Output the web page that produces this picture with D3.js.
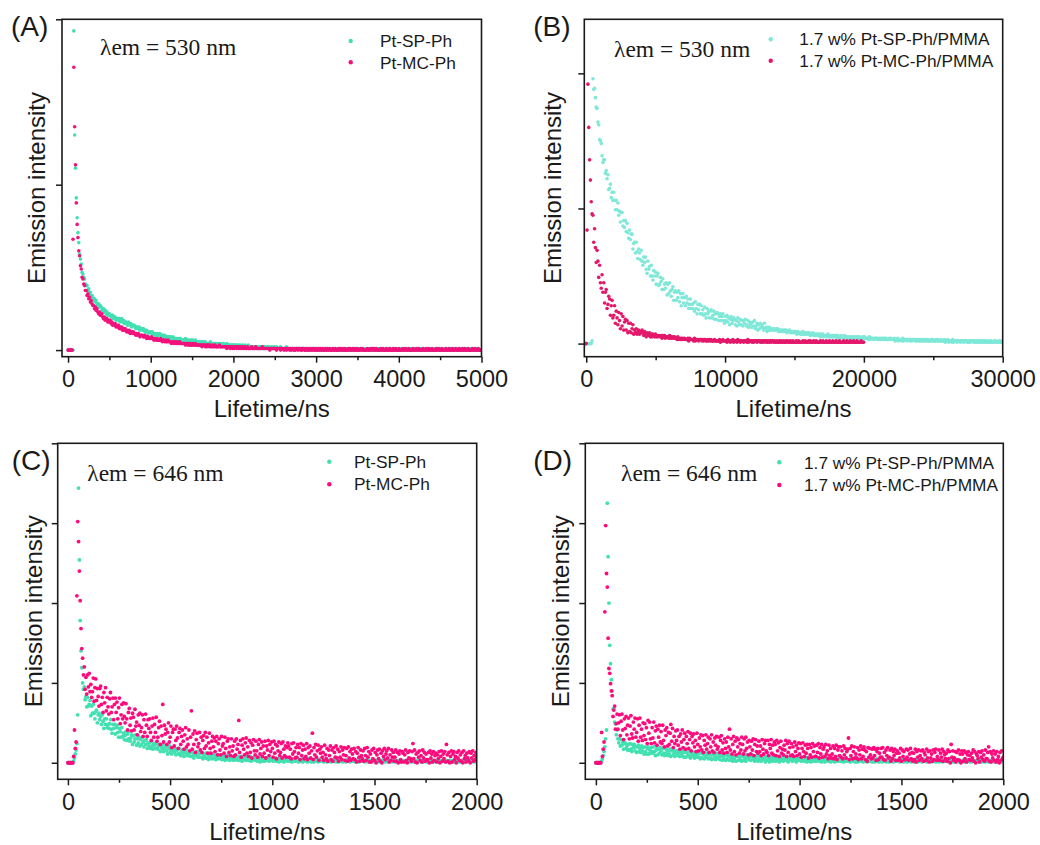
<!DOCTYPE html>
<html>
<head>
<meta charset="utf-8">
<script src="https://cdn.jsdelivr.net/npm/d3@7"></script>
<style>
  html, body { margin: 0; padding: 0; background: #ffffff; }
  svg text { font-family: "Liberation Sans", Arial, Helvetica, sans-serif; fill: #1a1a1a; }
</style>
</head>
<body>
<svg id="fig" width="1040" height="845"></svg>
<script>
// ---------------------------------------------------------------
// Phosphorescence decay data (TCSPC histograms, arbitrary units)
// Each series is one intensity value per time channel.
// ---------------------------------------------------------------
const panelLabels = ["(A)", "(B)", "(C)", "(D)"];
const emissionLabels = ["λem = 530 nm", "λem = 530 nm", "λem = 646 nm", "λem = 646 nm"];
const legendSolution = ["Pt-SP-Ph", "Pt-MC-Ph"];
const legendFilm = ["1.7 w% Pt-SP-Ph/PMMA", "1.7 w% Pt-MC-Ph/PMMA"];
const xTitle = "Lifetime/ns";
const yTitle = "Emission intensity";

// time axis ticks (ns)
const xTicksA = [0, 1000, 2000, 3000, 4000, 5000];
const xTicksB = [0, 10000, 20000, 30000];
const xTicksCD = [0, 500, 1000, 1500, 2000];
const yTicks3 = [0, 100, 200];
const yTicks5 = [0, 100, 200, 300, 400];

// channel start and width (ns) for panels A, B, C, D
const channelStart = [0, -120, 0, 0];
const channelWidth = [10, 60, 4, 4];

// (A) solution, 530 nm
const aSp = [
0,0,0,0,0,0,0,193,130,110,
92,80,71,65,58,55,52,47,46,44,
43,40,39,39,36,37,34,35,32,33,
32,30,31,29,30,27,28,28,26,27,
26,24,25,25,23,24,22,23,21,22,
22,21,20,21,21,19,20,20,18,19,
19,18,19,17,18,19,17,18,16,17,
17,16,15,17,16,15,16,14,15,15,
15,14,13,14,14,13,14,12,13,13,
12,13,12,11,12,12,11,10,11,11,
11,10,11,10,9,10,10,9,10,9,
9,10,9,8,9,9,8,9,8,8,
8,8,7,8,8,7,7,8,7,7,
7,7,6,7,7,6,7,6,6,6,
6,6,7,5,6,6,5,6,5,6,
5,6,5,5,6,5,5,4,5,5,
5,4,5,5,4,4,5,4,4,4,
4,4,5,4,4,3,4,4,4,3,
4,3,4,4,3,4,3,3,4,3,
3,3,4,3,3,3,2,3,3,3,
3,3,2,3,3,2,3,2,3,2,
2,3,2,2,3,2,2,2,3,2,
2,2,2,1,2,2,2,2,1,2,
2,2,1,2,2,1,2,1,2,2,
1,2,1,2,1,1,2,1,1,2,
1,1,2,1,1,1,1,2,1,1,
1,1,1,1,2,1,1,1,1,1,
1,1,1,0,1,1,1,1,1,1,
1,1,0,1,1,1,0,1,1,1,
1,0,1,1,0,1,1,1,0,1,
1,0,1,0,1,1,0,1,0,1,
0,1,1,0,1,0,1,0,1,0,
0,1,0,1,0,0,1,0,1,0,
1,0,0,1,0,1,0,0,1,0,
0,1,0,0,1,0,1,0,0,1,
0,0,1,0,1,0,0,1,0,0,
1,0,0,1,0,0,1,0,0,1,
0,0,1,0,0,1,0,0,1,0,
0,1,0,0,0,1,0,0,1,0,
1,0,0,1,0,0,0,1,0,0,
0,0,1,0,0,1,0,0,0,1,
0,1,0,0,1,0,0,0,1,0,
0,0,0,1,0,0,1,0,0,0,
1,0,0,0,1,0,0,1,0,0,
0,0,1,0,0,0,1,0,0,1,
0,1,0,0,0,1,0,0,0,0,
1,0,0,1,0,0,0,1,0,0,
0,0,1,0,0,0,1,0,0,1,
0,1,0,0,1,0,0,0,1,0,
0,0,0,1,0,0,1,0,0,0,
0];
const aMc = [
0,0,0,0,0,0,67,171,135,112,
89,76,68,60,57,51,49,44,43,40,
39,36,36,33,34,31,32,29,30,28,
27,27,25,26,24,25,23,22,23,21,
21,22,20,19,20,18,19,19,17,18,
17,18,16,17,15,16,15,16,14,15,
14,15,13,14,13,14,12,13,12,13,
12,11,12,11,12,10,11,11,10,11,
10,10,9,10,9,10,9,8,9,9,
9,8,8,9,8,7,8,8,7,7,
7,8,7,7,6,7,7,6,7,6,
6,6,7,6,5,6,6,5,6,5,
5,6,5,5,5,4,5,5,4,5,
5,4,5,4,4,5,4,4,4,4,
4,4,3,4,4,3,4,3,4,3,
3,4,3,3,4,3,3,3,3,3,
3,3,2,3,3,3,2,3,2,3,
3,2,3,2,2,3,2,2,3,2,
2,2,2,3,2,2,2,2,2,2,
2,2,1,2,2,2,1,2,2,1,
2,1,2,2,1,2,1,2,1,2,
1,2,1,1,2,1,1,2,1,1,
1,1,2,1,1,1,1,2,1,1,
1,1,1,1,1,2,1,1,1,1,
1,1,1,1,0,1,1,1,1,1,
1,1,0,1,1,1,1,0,1,1,
1,0,1,1,0,1,1,1,0,1,
0,1,1,0,1,0,1,1,0,1,
1,0,1,0,1,1,0,0,1,0,
0,1,0,1,0,1,0,1,0,0,
1,0,0,1,0,1,0,0,1,0,
0,1,0,0,1,0,1,0,0,0,
1,0,0,1,0,0,0,1,0,1,
0,0,1,0,0,1,0,0,0,1,
0,1,0,0,1,0,0,1,0,0,
1,0,0,0,1,0,1,0,0,0,
0,0,1,0,0,0,1,0,1,0,
1,0,0,1,0,0,0,0,1,0,
0,1,0,0,0,1,0,0,0,1,
0,0,0,1,0,0,1,0,0,0,
1,0,0,0,0,1,0,0,1,0,
0,0,1,0,0,0,0,1,0,0,
0,1,0,0,1,0,0,0,0,1,
0,0,0,1,0,0,1,0,0,0,
1,0,0,0,0,1,0,0,1,0,
0,0,1,0,0,0,0,1,0,0,
0,1,0,0,0,1,0,0,0,1,
0,0,0,1,0,0,0,1,0,0,
1,0,0,0,1,0,0,0,0,1,
0,0,1,0,0,0,1,0,0,0,
0];

// (B) PMMA film, 530 nm
const bSp = [
0,0,0,0,0,0,0,0,0,2,
196,188,189,182,175,174,164,162,151,150,
148,139,134,136,136,126,128,122,125,114,
115,118,108,112,106,112,106,99,106,99,
104,95,98,90,97,97,87,91,86,91,
83,89,82,78,84,77,81,81,70,74,
75,67,75,68,63,70,67,62,69,61,
58,64,60,64,55,52,61,55,57,50,
58,50,47,54,50,53,44,50,52,43,
44,49,46,40,48,40,44,41,45,36,
44,37,45,39,35,40,42,32,38,39,
32,38,34,39,31,37,28,34,37,30,
34,28,35,30,33,26,29,33,26,29,
26,30,24,31,26,22,29,25,29,22,
28,22,25,21,27,22,19,26,22,24,
19,24,25,19,21,24,18,22,18,23,
22,17,20,22,17,20,22,17,15,20,
17,21,16,19,14,18,20,15,17,19,
18,14,17,13,19,16,14,18,14,17,
13,17,15,18,13,14,17,12,16,14,
15,12,16,13,17,11,13,15,10,14,
11,15,12,14,12,10,15,11,12,9,
12,10,12,10,11,10,11,10,11,10,
11,10,11,9,10,9,10,9,10,9,
10,9,10,8,9,9,10,8,9,8,
9,8,9,8,9,7,9,8,8,7,
8,7,9,7,8,7,8,7,8,7,
8,6,7,7,8,6,7,6,7,6,
7,6,7,5,7,6,7,5,6,6,
6,5,7,5,6,5,6,5,6,5,
6,5,6,4,6,5,5,4,6,5,
5,4,6,4,5,5,5,4,5,4,
5,4,5,4,5,4,5,4,5,4,
5,4,4,4,5,3,5,4,4,4,
4,3,5,3,4,4,4,3,4,4,
4,3,4,3,4,3,4,3,4,3,
4,3,4,3,3,3,4,3,4,3,
3,3,4,2,3,3,4,2,3,3,
3,2,4,2,3,3,3,2,3,3,
3,2,3,2,3,3,3,2,3,2,
3,2,3,2,3,2,3,2,3,2,
3,2,3,2,2,2,3,2,3,2,
2,2,3,2,3,2,2,2,3,2,
2,2,3,1,2,2,3,1,2,2,
2,1,3,1,2,2,2,1,2,2,
2,1,2,2,2,1,2,2,2,1,
2,1,2,1,2,2,2,1,2,1,
2,1,2,1,2,1,2,1,2,1,
2,1,2,1,1,2,1,1,2,1,
1,1,2,1,2,1,1,1,2,1,
1,2,1];
const bMc = [
0,0,0,84,192,160,136,121,105,96,
95,75,85,71,60,69,61,49,58,45,
41,51,38,45,30,38,40,26,29,35,
33,21,28,32,19,21,28,15,24,19,
14,23,17,11,22,13,20,10,16,18,
10,17,8,15,9,15,8,11,14,7,
10,8,11,7,9,10,7,9,8,10,
8,6,9,7,5,8,7,6,8,5,
7,5,7,6,5,7,5,6,5,6,
6,5,6,4,6,5,6,4,5,5,
5,4,6,4,5,4,5,4,5,4,
4,3,5,3,4,3,4,3,4,3,
4,3,3,3,4,2,4,3,3,3,
3,2,4,2,3,3,3,2,3,3,
3,2,3,2,3,3,2,2,3,2,
3,2,3,2,2,2,3,2,2,2,
2,2,3,1,2,2,3,2,2,2,
2,1,3,2,2,1,2,2,3,1,
2,2,2,1,3,2,2,1,2,2,
2,1,2,2,2,1,3,1,2,2,
2,1,2,1,2,2,2,1,2,2,
2,1,2,1,2,1,2,2,1,2,
1,2,1,2,1,2,2,1,2,1,
1,2,1,1,2,1,2,1,1,2,
1,1,2,1,2,1,1,2,1,1,
2,1,1,1,2,1,1,2,1,1,
1,1,2,1,1,2,1,1,1,2,
1,2,1,1,1,2,1,1,2,1,
1,1,1,2,1,1,2,1,1,1,
2,1,1,1,2,1,1,1,2,1,
1,1,2,1,1,1,2,1,1,1,
1,2,1,1,1,2,1,1,1,2,
1,1,1,2,1,1,1,2,1,1,
1,1,2,1,1,1];

// (C) solution, 646 nm
const cSp = [
0,0,0,0,0,0,0,2,6,11,
16,24,60,344,254,178,140,119,100,92,
95,79,83,70,82,71,73,78,59,71,
62,73,62,55,64,66,50,60,62,54,
58,48,60,52,43,55,48,55,44,48,
43,49,54,42,37,48,43,48,36,44,
47,38,32,43,39,32,44,33,37,29,
34,39,28,36,30,39,27,31,35,23,
34,26,30,35,22,30,25,32,21,29,
23,32,26,20,28,23,29,18,25,21,
25,18,27,21,17,24,22,18,24,18,
17,21,23,14,21,18,23,14,18,20,
21,15,11,18,21,13,16,11,18,15,
13,18,10,15,17,11,18,12,9,15,
16,12,8,14,12,16,9,12,9,14,
8,13,15,9,6,11,13,9,14,7,
11,7,12,13,7,5,11,9,6,12,
6,11,4,9,12,7,5,10,11,5,
9,4,7,10,5,8,6,10,4,8,
5,9,3,7,8,4,9,6,3,7,
8,4,7,3,9,6,4,7,3,8,
3,6,8,2,5,7,4,8,3,6,
7,3,5,8,2,6,6,4,7,3,
3,7,2,5,6,1,7,4,2,6,
5,2,6,4,3,6,2,5,4,3,
4,2,5,3,6,2,4,5,1,4,
2,5,3,4,1,5,3,4,2,5,
4,2,5,3,1,4,3,5,2,3,
3,5,1,4,2,4,3,1,5,3,
2,4,3,1,5,3,2,4,1,4,
3,1,4,2,4,3,1,3,4,2,
4,2,3,1,3,4,2,1,3,3,
2,3,1,4,2,3,4,2,1,3,
3,1,3,2,4,2,1,3,3,2,
1,3,2,4,2,1,3,2,4,2,
3,2,1,3,2,4,1,2,3,2,
2,4,2,1,3,2,3,1,2,3,
1,2,3,2,4,1,2,3,2,2,
3,1,2,3,1,2,4,2,1,3,
2,3,1,2,3,2,1,3,2,2,
1,2,3,1,2,3,2,1,3,2,
3,2,1,2,2,3,1,2,3,1,
2,1,3,2,1,2,3,2,1,2,
2,3,1,2,3,1,2,2,3,1,
1,2,2,3,1,2,3,1,2,2,
3,1,2,2,1,3,2,1,2,3,
2,2,1,3,2,1,2,3,1,2,
1,3,2,1,2,3,1,2,2,1,
2,1,3,2,2,1,3,1,2,2,
3,2,1,2,1,3,2,2,1,2,
2];
const cMc = [
0,0,0,0,0,0,0,8,41,18,
26,209,302,277,240,203,168,143,131,110,
120,92,107,86,110,95,112,89,98,82,
89,106,77,94,105,78,93,83,71,93,
96,73,82,63,88,75,94,65,82,70,
61,80,88,63,70,81,54,73,81,63,
76,55,69,81,49,60,73,55,75,58,
50,74,55,41,63,68,47,56,40,62,
57,41,67,46,51,35,60,47,62,39,
44,60,33,54,38,61,47,33,54,43,
55,38,28,46,56,32,48,38,57,27,
32,44,52,23,46,34,73,26,47,36,
42,23,38,50,26,32,46,19,38,42,
21,42,28,46,31,18,38,43,23,33,
41,27,17,35,44,20,30,23,41,15,
32,65,17,36,23,40,13,29,37,20,
24,38,16,32,13,28,34,18,38,21,
32,12,25,37,18,12,27,33,20,31,
14,27,33,10,24,30,16,10,33,21,
24,12,32,18,8,27,30,13,20,9,
30,15,21,8,27,10,30,17,23,53,
13,28,7,22,30,17,10,25,31,12,
20,8,28,13,25,6,22,29,15,10,
27,15,7,23,29,11,18,26,8,21,
12,27,6,21,16,28,9,23,14,26,
18,7,27,12,23,5,21,15,26,9,
13,24,6,26,17,9,21,7,19,25,
21,7,17,5,24,11,25,14,6,19,
7,23,12,19,4,24,9,16,22,5,
17,8,24,4,19,12,21,6,15,37,
4,19,10,23,7,15,22,3,17,12,
20,7,13,3,22,10,5,18,2,16,
9,21,4,16,2,19,13,7,21,6,
17,2,14,7,20,4,16,10,19,3,
9,18,2,20,6,14,3,17,11,5,
18,4,14,1,12,19,7,2,16,9,
5,15,2,18,9,3,19,7,14,1,
11,1,16,5,18,3,13,0,10,16,
5,17,2,12,0,15,8,18,4,11,
15,6,18,1,10,3,16,7,13,2,
7,16,2,13,0,11,15,4,1,14,
12,1,10,16,3,0,13,6,15,5,
2,14,24,5,16,1,11,0,13,7,
15,3,9,1,16,6,13,2,11,4,
4,13,0,15,6,11,1,14,3,9,
12,1,10,5,14,0,8,15,2,11,
5,14,1,23,10,2,13,0,8,15,
1,11,14,4,8,0,13,6,15,3,
10,2,13,0,15,5,9,1,12,6,
3,14,0,12,6,15,2,9,4,13,
8];

// (D) PMMA film, 646 nm
const dSp = [
0,0,0,0,0,0,0,2,5,9,
14,20,30,41,325,258,200,147,124,104,
90,67,68,51,49,35,41,30,25,30,
21,29,22,26,17,24,25,18,21,16,
23,16,24,17,14,23,19,23,15,20,
13,20,22,14,18,13,21,15,19,11,
20,14,11,18,20,11,16,12,19,14,
12,20,14,9,16,18,10,17,12,19,
15,10,18,12,9,18,12,16,9,15,
11,17,8,15,17,10,13,8,15,12,
15,9,13,8,16,12,9,15,7,13,
7,13,15,10,8,14,6,11,13,8,
12,6,10,14,7,11,13,7,5,12,
6,12,10,5,13,7,9,12,5,10,
12,6,4,10,11,5,9,4,12,7,
6,11,4,8,11,3,9,6,10,3,
10,4,8,11,3,7,10,5,2,9,
5,9,2,8,10,3,7,4,9,2,
8,3,9,5,2,10,6,9,4,7,
3,8,10,4,7,2,8,4,9,2,
7,3,8,2,6,9,4,6,1,8,
3,8,5,1,7,4,8,2,6,5,
7,2,6,4,8,1,5,7,3,6,
2,6,4,7,3,5,1,6,4,7,
5,2,7,3,6,4,1,6,3,5,
3,6,2,5,4,7,2,4,6,1,
6,2,4,5,1,6,3,5,2,4,
2,5,3,6,2,4,5,1,4,6,
4,1,5,3,6,2,4,3,1,5,
2,5,3,1,5,4,2,6,3,2,
4,2,5,3,1,4,2,5,3,2,
2,4,1,5,3,2,4,3,1,5,
3,1,4,2,5,3,2,4,1,3,
4,2,3,1,4,3,5,2,3,1,
2,4,1,3,2,5,3,1,4,2,
3,1,4,2,3,4,1,3,2,4,
1,3,2,4,3,1,4,2,3,2,
3,2,4,1,2,3,2,4,1,3,
2,4,1,3,2,3,4,1,2,3,
3,1,2,4,2,1,3,2,4,2,
1,3,2,2,4,3,1,3,2,3,
2,4,1,3,2,2,3,1,4,2,
3,1,3,2,4,1,2,3,2,2,
2,3,2,1,3,2,4,1,2,3,
1,2,3,2,2,4,1,3,2,2,
3,2,1,3,2,1,3,2,4,1,
2,1,3,2,3,2,1,2,3,2,
1,3,2,2,1,3,2,3,1,2,
3,2,1,2,3,1,2,2,3,1,
2,1,3,2,1,2,3,1,2,3,
2];
const dMc = [
0,0,0,0,0,0,0,38,8,17,
26,189,297,237,220,156,118,112,99,90,
84,58,66,71,42,49,61,42,50,60,
34,52,61,41,29,55,43,58,35,47,
56,30,46,59,36,31,51,42,56,32,
38,55,27,47,56,32,42,28,50,34,
49,29,44,24,53,37,51,30,24,44,
31,51,25,40,46,22,42,32,47,26,
39,24,47,28,20,41,34,44,21,38,
23,37,48,27,43,19,33,24,40,28,
41,22,33,17,36,26,41,19,29,37,
17,33,24,39,18,29,37,15,33,25,
36,20,28,14,37,23,15,31,20,35,
16,34,13,28,22,35,17,24,32,13,
30,20,35,15,26,13,31,22,33,17,
20,32,13,28,34,16,25,12,30,18,
26,13,32,20,42,16,30,11,23,33,
14,27,10,31,20,29,12,24,16,32,
23,11,30,15,32,18,26,10,28,20,
11,27,16,30,9,23,29,14,21,12,
27,14,21,9,29,17,11,24,28,15,
13,28,9,23,18,29,12,22,10,26,
23,9,28,15,25,8,19,27,12,17,
10,22,16,28,8,24,13,27,19,9,
24,10,20,8,26,14,22,9,18,25,
11,24,7,18,25,14,8,22,12,23,
18,6,23,10,19,7,24,14,21,8,
8,22,13,24,6,19,11,23,7,17,
20,8,23,11,15,5,22,9,18,6,
11,21,5,18,8,22,4,16,20,9,
20,7,15,5,21,10,18,6,14,17,
31,4,18,9,21,5,14,20,6,11,
6,19,4,16,10,21,5,17,8,20,
16,4,14,2,19,7,18,10,5,17,
6,19,9,17,3,14,18,4,12,7,
18,7,19,4,13,3,16,9,19,6,
7,16,2,18,5,14,9,17,3,12,
15,3,12,6,18,2,16,8,14,4,
4,17,7,16,3,11,18,5,13,2,
12,4,17,1,14,7,16,3,9,15,
5,16,2,13,10,3,17,6,14,1,
15,6,11,2,16,4,13,17,3,8,
4,16,3,12,7,17,2,14,10,5,
12,2,16,5,14,0,23,7,15,3,
6,14,1,13,4,16,3,11,0,15,
11,2,15,5,13,1,10,14,4,9,
3,12,6,16,2,14,0,11,9,5,
14,1,13,7,15,4,10,2,16,5,
5,13,20,2,14,1,11,6,15,3,
11,1,14,4,8,0,13,3,15,5,
7];

// ---------------------------------------------------------------
// Layout and styling
// ---------------------------------------------------------------
const svg = d3.select("#fig");
const INK = "#1a1a1a";

const panels = [
  {
    frame: { l: 62, r: 481.5, t: 19.3, b: 356.7 },
    xDomain: [-73, 5000], yDomain: [-4, 200],
    xMajor: xTicksA, xMinor: [500, 1500, 2500, 3500, 4500], yTicks: yTicks3,
    series: [aSp, aMc], colors: ["#43dfb3", "#f2127c"], r: 1.8,
    label: [11, 36], lambda: [100, 55],
    legend: { mx: 350.7, my: [41, 62.3], tx: 380, ty: [47, 68.5], names: legendSolution },
    yTitleX: 45
  },
  {
    frame: { l: 584.3, r: 1002.7, t: 19.3, b: 356.7 },
    xDomain: [-140, 30000], yDomain: [-9.7, 240],
    xMajor: xTicksB, xMinor: [5000, 15000, 25000], yTicks: yTicks3,
    series: [bSp, bMc], colors: ["#7fe8d8", "#e3186b"], r: 1.8,
    label: [533.3, 36], lambda: [614, 57.3],
    legend: { mx: 770.7, my: [39.3, 60.7], tx: 799.3, ty: [45, 66.5], names: legendFilm },
    yTitleX: 560.5
  },
  {
    frame: { l: 57.7, r: 476.7, t: 443.3, b: 779.3 },
    xDomain: [-50, 2000], yDomain: [-20.7, 400],
    xMajor: xTicksCD, xMinor: [250, 750, 1250, 1750], yTicks: yTicks5,
    series: [cSp, cMc], colors: ["#43e0b1", "#ff0a7c"], r: 1.9,
    label: [11.7, 470], lambda: [87.3, 481],
    legend: { mx: 329.3, my: [461.7, 484.3], tx: 354, ty: [468, 489.7], names: legendSolution },
    yTitleX: 42
  },
  {
    frame: { l: 585.3, r: 1003.3, t: 443.3, b: 779.3 },
    xDomain: [-52, 2000], yDomain: [-20.7, 400],
    xMajor: xTicksCD, xMinor: [250, 750, 1250, 1750], yTicks: yTicks5,
    series: [dSp, dMc], colors: ["#43e0b1", "#ff0a7c"], r: 1.9,
    label: [533.3, 470], lambda: [621, 481],
    legend: { mx: 779.3, my: [462.3, 485], tx: 804, ty: [469, 490.5], names: legendFilm },
    yTitleX: 569
  }
];

panels.forEach((p, k) => {
  const f = p.frame;
  const x = d3.scaleLinear().domain(p.xDomain).range([f.l, f.r]);
  const y = d3.scaleLinear().domain(p.yDomain).range([f.b, f.t]);

  const clipId = "clip" + k;
  svg.append("clipPath").attr("id", clipId)
    .append("rect").attr("x", f.l).attr("y", f.t)
    .attr("width", f.r - f.l).attr("height", f.b - f.t);

  // decay points: first series underneath, second on top
  const plot = svg.append("g").attr("clip-path", `url(#${clipId})`);
  p.series.forEach((vals, s) => {
    const pts = vals.map((v, i) => ({ t: channelStart[k] + i * channelWidth[k], v }));
    plot.append("g").selectAll("circle").data(pts).join("circle")
      .attr("cx", d => x(d.t)).attr("cy", d => y(d.v))
      .attr("r", p.r).attr("fill", p.colors[s]);
  });

  // x axis: labelled majors + short minors
  const xAxis = svg.append("g").attr("transform", `translate(0,${f.b})`)
    .call(d3.axisBottom(x).tickValues(p.xMajor).tickFormat(d3.format("d"))
      .tickSize(6).tickSizeOuter(0).tickPadding(8));
  xAxis.select(".domain").remove();
  xAxis.selectAll("line").attr("stroke", INK).attr("stroke-width", 1.5);
  xAxis.selectAll("text").attr("font-size", 23.5).attr("fill", INK)
    .style("font-family", '"Liberation Sans", Arial, sans-serif');

  const xMinor = svg.append("g").attr("transform", `translate(0,${f.b})`)
    .call(d3.axisBottom(x).tickValues(p.xMinor).tickSize(3.5).tickSizeOuter(0).tickFormat(""));
  xMinor.select(".domain").remove();
  xMinor.selectAll("line").attr("stroke", INK).attr("stroke-width", 1.5);

  // y axis: unlabeled ticks
  const yAxis = svg.append("g").attr("transform", `translate(${f.l},0)`)
    .call(d3.axisLeft(y).tickValues(p.yTicks).tickSize(6).tickSizeOuter(0).tickFormat(""));
  yAxis.select(".domain").remove();
  yAxis.selectAll("line").attr("stroke", INK).attr("stroke-width", 1.5);

  // frame
  svg.append("rect").attr("x", f.l).attr("y", f.t)
    .attr("width", f.r - f.l).attr("height", f.b - f.t)
    .attr("fill", "none").attr("stroke", INK).attr("stroke-width", 1.6);

  // axis titles
  svg.append("text").attr("x", (f.l + f.r) / 2).attr("y", f.b + 60.5)
    .attr("text-anchor", "middle").attr("font-size", 24).text(xTitle);
  const cy = (f.t + f.b) / 2;
  svg.append("text").attr("x", p.yTitleX).attr("y", cy)
    .attr("transform", `rotate(-90,${p.yTitleX},${cy})`)
    .attr("text-anchor", "middle").attr("font-size", 24).text(yTitle);

  // panel letter
  svg.append("text").attr("x", p.label[0]).attr("y", p.label[1])
    .attr("font-size", 28).text(panelLabels[k]);

  // emission wavelength note
  svg.append("text").attr("x", p.lambda[0]).attr("y", p.lambda[1])
    .attr("font-size", 23.5)
    .style("font-family", '"Liberation Serif", "Times New Roman", serif')
    .text(emissionLabels[k]);

  // legend
  const lg = p.legend;
  lg.names.forEach((name, s) => {
    svg.append("circle").attr("cx", lg.mx).attr("cy", lg.my[s]).attr("r", 2.2)
      .attr("fill", p.colors[s]);
    svg.append("text").attr("x", lg.tx).attr("y", lg.ty[s])
      .attr("font-size", 17.3).text(name);
  });
});
</script>
</body>
</html>
